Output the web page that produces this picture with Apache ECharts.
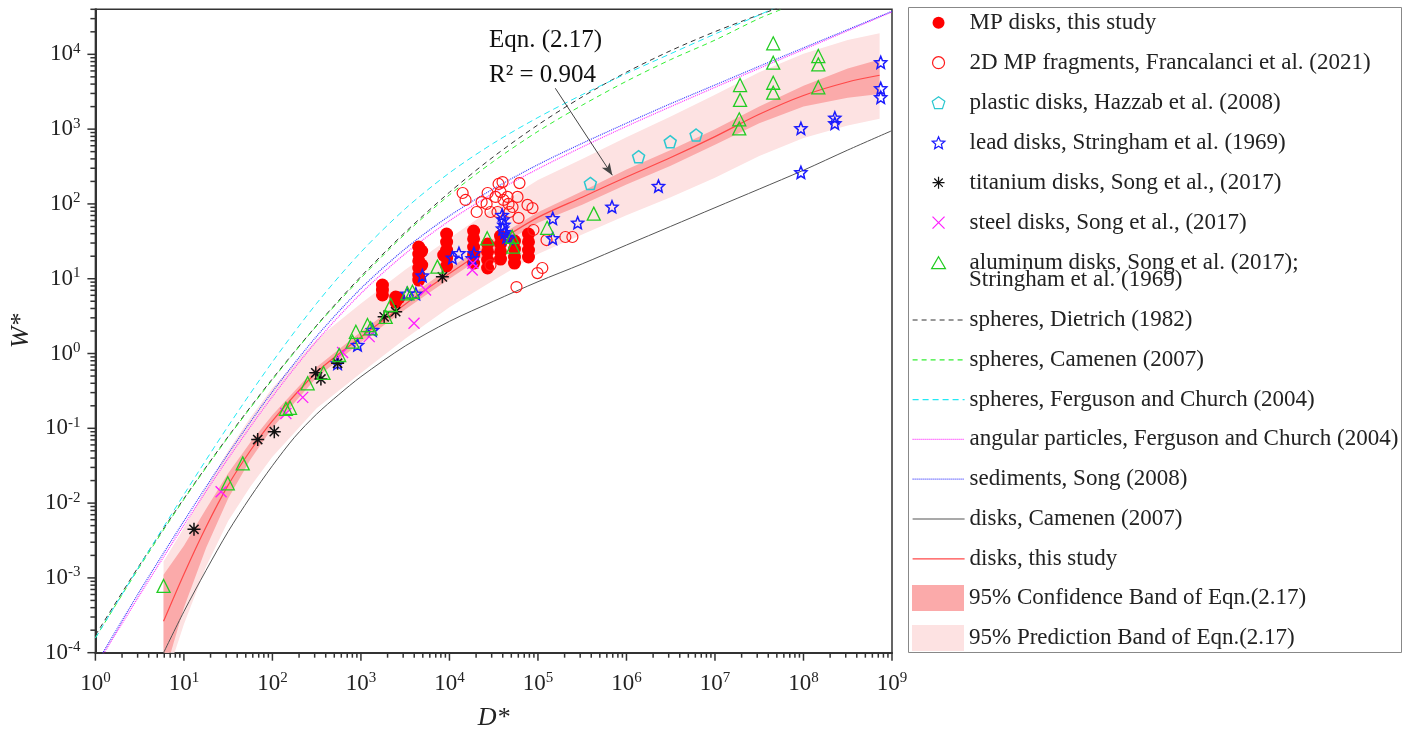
<!DOCTYPE html>
<html lang="en">
<head>
<meta charset="UTF-8">
<title>W* - D*</title>
<script src="https://cdn.jsdelivr.net/npm/echarts@6/dist/echarts.min.js"></script>
<style>
  html, body { margin: 0; padding: 0; background: #fff; }
  #chart { width: 1411px; height: 738px; }
</style>
</head>
<body>
<div id="chart"></div>
<script>
// points, [D*, W*]
var mpDisks = [
  [1750, 8.24], [1750, 7.06], [1750, 6.07], [2470, 5.69], [2470, 4.88], [2680, 5.52],
  [4500, 26.5], [4500, 21.4], [4500, 17.3], [4500, 13.9], [4500, 11.2], [4500, 9.6], [4860, 23.4], [4860, 15.2],
  [9290, 39.6], [9290, 30.9], [9290, 24.2], [9290, 18.9], [9290, 14.8], [8610, 20.7],
  [18750, 43.4], [18750, 34.0], [18750, 26.5], [18750, 20.7], [18750, 16.2],
  [26980, 29.1], [26980, 22.8], [26980, 17.8], [26980, 13.9],
  [37760, 37.2], [37760, 29.1], [37760, 22.8], [37760, 18.3],
  [54330, 31.9], [54330, 24.9], [54330, 19.5], [54330, 16.2],
  [78160, 39.6], [78160, 31.0], [78160, 24.2], [78160, 19.5]
];
var mpFragments = [
  [14100, 140], [15200, 113], [20300, 78], [23100, 106], [27000, 140], [26300, 100], [29100, 78],
  [33200, 124], [35900, 185], [39800, 196], [37800, 144], [40800, 113], [45300, 124], [46500, 100],
  [51600, 91], [58700, 124], [61800, 190], [60300, 65], [76200, 97], [86700, 88], [34900, 78],
  [47700, 78], [88900, 44.8], [125000, 32.9], [204000, 36.1], [245000, 36.1], [29100, 15.2],
  [98700, 11.9], [112000, 13.9], [57200, 7.74]
];
var plasticDisks = [[391000, 188], [1370000, 428], [3120000, 679], [6120000, 834]];
var leadDisks = [
  [545, 0.74], [916, 1.30], [1350, 2.06], [3310, 6.3], [4170, 6.3], [4940, 11.0], [10800, 19.1],
  [12800, 21.9], [18100, 18.7], [18900, 21.9], [39400, 71.1], [40300, 61.7], [41200, 52.5],
  [39800, 46.8], [42200, 41.7], [44200, 36.3], [46900, 34.7], [147000, 34.7], [147000, 64.1],
  [281000, 56.1], [686000, 91.8], [2300000, 173], [93500000, 264], [93500000, 1026],
  [226000000, 1194], [226000000, 1419], [746000000, 2661], [746000000, 3508], [746000000, 7816]
];
var titaniumDisks = [
  [13, 0.00447], [68.2, 0.0708], [105, 0.0902], [309, 0.553], [353, 0.457], [545, 0.741],
  [1830, 3.09], [2470, 3.62], [8320, 10.6]
];
var steelDisks = [
  [26.3, 0.0142], [142, 0.158], [220, 0.259], [621, 1.03], [1240, 1.68], [3980, 2.54],
  [5370, 7.06], [18100, 13.1], [18400, 16.1]
];
var aluminumDisks = [
  [5.89, 0.00078], [31.3, 0.0184], [46.2, 0.034], [142, 0.182], [158, 0.188], [250, 0.40],
  [378, 0.55], [568, 0.955], [804, 1.44], [877, 1.95], [1186, 2.40], [1288, 2.17], [1905, 3.09],
  [2173, 4.45], [3350, 6.38], [3820, 6.70], [7310, 14.5], [26700, 34.7], [51200, 36.4],
  [52500, 26.9], [127000, 47.9], [427000, 74.1],
  [18800000, 1023], [18800000, 1352], [19200000, 2455], [19200000, 3882],
  [45500000, 3069], [45500000, 4169], [45500000, 7727], [45500000, 14030],
  [147000000, 3622], [147000000, 7345], [147000000, 9484]
];

// curves
var dietrichSpheres = [
  [1, 1.71e-4], [3.162, 1.49e-3], [10, 0.0115], [31.62, 0.0776], [100, 0.459], [316.2, 2.38],
  [1000, 10.7], [3162, 41.8], [1e4, 143], [31620, 430], [1e5, 1140], [316200, 2700], [1e6, 5770],
  [3.162e6, 11200], [1e7, 20100], [3.162e7, 33800], [5.012e7, 41100]
];
var camenenSpheres = [
  [1, 1.58e-4], [3.162, 1.41e-3], [10, 0.0112], [31.62, 0.0759], [100, 0.447], [316.2, 2.34],
  [1000, 10.2], [3162, 39.8], [1e4, 132], [31620, 372], [1e5, 933], [316200, 2090], [1e6, 4370],
  [3.162e6, 8510], [1e7, 15500], [3.162e7, 30200], [5.623e7, 39800]
];
var fergusonSpheres = [
  [1, 1.57e-4], [3.162, 1.46e-3], [10, 0.0130], [31.62, 0.107], [100, 0.773], [316.2, 4.69],
  [1000, 22.7], [3162, 86.0], [1e4, 260], [31620, 651], [1e5, 1430], [316200, 2890], [1e6, 5530],
  [3.162e6, 10200], [1e7, 18700], [3.162e7, 33600], [5.012e7, 43300]
];
var fergusonAngular = [
  [1, 6.44e-5], [3.162, 5.90e-4], [10, 5.08e-3], [31.62, 0.0396], [100, 0.266], [316.2, 1.47],
  [1000, 6.35], [3162, 21.6], [1e4, 59.5], [31620, 140], [1e5, 294], [316200, 577], [1e6, 1090],
  [3.162e6, 2000], [1e7, 3620], [3.162e7, 6500], [1e8, 11600], [3.162e8, 20700], [1e9, 37000]
];
var songSediments = [
  [1, 6.76e-5], [3.162, 6.61e-4], [10, 5.75e-3], [31.62, 0.0457], [100, 0.309], [316.2, 1.70],
  [1000, 7.41], [3162, 25.1], [1e4, 69.2], [31620, 160], [1e5, 335], [316200, 646], [1e6, 1200],
  [3.162e6, 2190], [1e7, 3890], [3.162e7, 6920], [1e8, 12200], [3.162e8, 21400], [1e9, 37600]
];
var camenenDisks = [
  [5.623, 8.91e-5], [10, 3.55e-4], [17.78, 1.26e-3], [31.62, 4.17e-3], [56.23, 0.0120], [100, 0.0316],
  [177.8, 0.0759], [316.2, 0.155], [562.3, 0.282], [1000, 0.490], [3162, 1.26], [1e4, 2.69],
  [31620, 5.01], [1e5, 9.12], [316200, 15.8], [1e6, 28.2], [3.162e6, 50.1], [1e7, 89.1],
  [3.162e7, 158], [1e8, 282], [3.162e8, 525], [1e9, 955]
];
var fitDisks = [
  [5.888, 2.63e-4], [10, 1.12e-3], [17.78, 4.79e-3], [31.62, 0.0174], [56.23, 0.0501], [100, 0.126],
  [316.2, 0.562], [1000, 1.66], [3162, 4.57], [1e4, 11.7], [31620, 28.8], [1e5, 66.1], [316200, 123],
  [1e6, 229], [3.162e6, 417], [1e7, 794], [3.162e7, 1580], [1e8, 2820], [3.162e8, 4270], [7.244e8, 5250]
];
var confUpper = [
  [5.888, 1.10e-3], [10, 2.69e-3], [17.78, 8.32e-3], [31.62, 0.0251], [56.23, 0.0646], [100, 0.151],
  [316.2, 0.661], [1000, 1.95], [3162, 5.37], [1e4, 13.8], [31620, 33.9], [1e5, 77.6], [316200, 148],
  [1e6, 288], [3.162e6, 525], [1e7, 1000], [3.162e7, 2000], [1e8, 3800], [3.162e8, 6460], [7.244e8, 8510]
];
var confLower = [
  [5.888, 4.68e-5], [10, 3.98e-4], [17.78, 2.51e-3], [31.62, 0.0115], [56.23, 0.0380], [100, 0.102],
  [316.2, 0.479], [1000, 1.41], [3162, 3.89], [1e4, 10.0], [31620, 24.5], [1e5, 56.2], [316200, 97.7],
  [1e6, 182], [3.162e6, 324], [1e7, 617], [3.162e7, 1200], [1e8, 2000], [3.162e8, 2630], [7.244e8, 2950]
];
var predUpper = [
  [5.888, 1.66e-3], [10, 4.68e-3], [17.78, 0.0158], [31.62, 0.0501], [56.23, 0.138], [100, 0.347],
  [316.2, 1.55], [1000, 4.68], [3162, 13.2], [1e4, 34.7], [31620, 89.1], [1e5, 209], [316200, 398],
  [1e6, 776], [3.162e6, 1480], [1e7, 2880], [3.162e7, 5750], [1e8, 10200], [3.162e8, 15500], [7.244e8, 19100]
];
var predLower = [
  [5.888, 3.55e-5], [10, 2.40e-4], [17.78, 1.41e-3], [31.62, 5.75e-3], [56.23, 0.0166], [100, 0.0417],
  [316.2, 0.186], [1000, 0.550], [3162, 1.58], [1e4, 4.17], [31620, 9.55], [1e5, 21.4], [316200, 38.9],
  [1e6, 70.8], [3.162e6, 123], [1e7, 224], [3.162e7, 437], [1e8, 759], [3.162e8, 1120], [7.244e8, 1380]
];
// arrow of the Eqn. (2.17) note, from / to
var noteArrow = [[157000, 3520], [692000, 242]];

var xMajor = [1, 10, 100, 1e3, 1e4, 1e5, 1e6, 1e7, 1e8, 1e9];
var yMajor = [1e-4, 1e-3, 1e-2, 1e-1, 1, 10, 100, 1e3, 1e4];
var xMin = 1, xMax = 1e9, yMin = 1e-4, yMax = 4e4;

var FONT = 'Liberation Serif';
var INK = '#222';

var STAR = 'path://M0,-10L2.65,-3.64L9.51,-3.09L4.28,1.39L5.88,8.09L0,4.5L-5.88,8.09L-4.28,1.39L-9.51,-3.09L-2.65,-3.64Z';
var PENTAGON = 'path://M0,-10L9.51,-3.09L5.88,8.09L-5.88,8.09L-9.51,-3.09Z';
var TRIANGLE = 'path://M0,-10L10,7.3L-10,7.3Z';
var CROSS = 'path://M0,0L10,10M10,0L0,10';
var ASTERISK = 'path://M5,0L5,10M0,5L10,5M1.46,1.46L8.54,8.54M1.46,8.54L8.54,1.46';

var ALU = 'aluminum disks, Song et al. (2017); Stringham et al. (1969)';
var CONF = '95% Confidence Band of Eqn.(2.17)';
var PRED = '95% Prediction Band of Eqn.(2.17)';

function minorTicks(lo, hi) {
  var out = [];
  for (var d = lo; d < hi; d *= 10) {
    for (var k = 2; k <= 9; k++) {
      if (d * k <= hi) out.push(d * k);
    }
  }
  return out;
}

function band(name, upper, lower, color) {
  return {
    name: name, type: 'custom', z: 1, clip: true, silent: true,
    itemStyle: { color: color },
    data: [[1, 1]],
    renderItem: function (params, api) {
      var pts = upper.map(function (p) { return api.coord(p); });
      lower.slice().reverse().forEach(function (p) { pts.push(api.coord(p)); });
      return { type: 'polygon', shape: { points: pts }, style: { fill: color } };
    }
  };
}

function curve(name, data, color, dash, width) {
  return {
    name: name, type: 'line', data: data, z: 2, silent: true,
    symbol: 'none', showSymbol: false, smooth: 0.3,
    lineStyle: { color: color, type: dash, width: width },
    itemStyle: { color: color }
  };
}

function points(name, data, symbol, size, fill, stroke, bw) {
  return {
    name: name, type: 'scatter', data: data, z: 4, silent: true,
    symbol: symbol, symbolSize: size,
    itemStyle: { color: fill, borderColor: stroke, borderWidth: bw, opacity: 1 }
  };
}

function ticks(values, isX, len) {
  return {
    type: 'custom', z: 5, silent: true,
    data: values.map(function (v) { return isX ? [v, yMin] : [xMin, v]; }),
    renderItem: function (params, api) {
      var p = api.coord([api.value(0), api.value(1)]);
      var shape = isX ? { x1: p[0], y1: p[1], x2: p[0], y2: p[1] + len }
                      : { x1: p[0] - len, y1: p[1], x2: p[0], y2: p[1] };
      return { type: 'line', shape: shape, style: { stroke: '#333', lineWidth: 1.5 } };
    }
  };
}

function powLabel(v) {
  var l = Math.log(v) / Math.LN10;
  var e = Math.round(l);
  if (Math.abs(l - e) > 1e-6) return '';
  return '{b|10}{e|' + e + '}';
}

var labelRich = {
  b: { fontFamily: FONT, fontSize: 23, color: INK, lineHeight: 26 },
  e: { fontFamily: FONT, fontSize: 15, color: INK, lineHeight: 16, verticalAlign: 'top' }
};

var chart = echarts.init(document.getElementById('chart'));

var legendText = { fontFamily: FONT, fontSize: 23, color: INK };

var option = {
  animation: false,
  grid: {
    left: 94, right: 519, top: 9.3, bottom: 85.3,
    show: true, borderColor: '#333', borderWidth: 1.5, backgroundColor: 'transparent'
  },
  xAxis: {
    type: 'log', logBase: 10, min: xMin, max: xMax, splitNumber: 9,
    name: 'D*', nameLocation: 'middle', nameGap: 52,
    nameTextStyle: { fontFamily: FONT, fontStyle: 'italic', fontSize: 26, color: INK },
    axisLine: { lineStyle: { color: '#333', width: 2 } },
    axisTick: { show: false },
    splitLine: { show: false },
    axisLabel: { margin: 18, formatter: powLabel, rich: labelRich, showMaxLabel: true, showMinLabel: true }
  },
  yAxis: {
    type: 'log', logBase: 10, min: yMin, max: yMax, splitNumber: 9,
    name: 'W*', nameLocation: 'middle', nameGap: 58, nameRotate: 90,
    nameTextStyle: { fontFamily: FONT, fontStyle: 'italic', fontSize: 26, color: INK },
    axisLine: { lineStyle: { color: '#333', width: 2 } },
    axisTick: { show: false },
    splitLine: { show: false },
    axisLabel: { margin: 15, formatter: powLabel, rich: labelRich }
  },
  legend: [
    {
      orient: 'vertical', left: 931, top: 11.2, padding: 0, itemWidth: 52, itemHeight: 12, itemGap: 17,
      selectedMode: false, textStyle: legendText, itemStyle: { borderWidth: 1.2 },
      formatter: function (n) { return n === ALU ? 'aluminum disks, Song et al. (2017);' : n; },
      data: ['MP disks, this study', '2D MP fragments, Francalanci et al. (2021)',
        'plastic disks, Hazzab et al. (2008)', 'lead disks, Stringham et al. (1969)',
        'titanium disks, Song et al., (2017)', 'steel disks, Song et al., (2017)', ALU]
    },
    {
      orient: 'vertical', left: 912, top: 308.5, padding: 0, itemWidth: 52, itemHeight: 12, itemGap: 16.8,
      selectedMode: false, textStyle: legendText, lineStyle: { width: 1.2 },
      data: ['spheres, Dietrich (1982)', 'spheres, Camenen (2007)', 'spheres, Ferguson and Church (2004)',
        'angular particles, Ferguson and Church (2004)', 'sediments, Song (2008)',
        'disks, Camenen (2007)', 'disks, this study'].map(function (n) {
        return { name: n, itemStyle: { opacity: 0 } };
      })
    },
    {
      orient: 'vertical', left: 912, top: 585, padding: 0, itemWidth: 52, itemHeight: 26, itemGap: 14,
      selectedMode: false, textStyle: legendText,
      data: [{ name: CONF, icon: 'rect' }, { name: PRED, icon: 'rect' }]
    }
  ],
  graphic: [
    { type: 'rect', shape: { x: 908.5, y: 7.5, width: 493, height: 645 },
      style: { fill: 'none', stroke: '#888', lineWidth: 1 } },
    { type: 'text', x: 969, y: 280, style: { text: 'Stringham et al. (1969)', fontFamily: FONT, fontSize: 23, fill: INK, verticalAlign: 'middle' } },
    { type: 'text', x: 489, y: 40, z: 10, style: { text: 'Eqn. (2.17)', fontFamily: FONT, fontSize: 25, fill: '#111', verticalAlign: 'middle' } },
    { type: 'text', x: 489, y: 75, z: 10, style: { text: 'R\u00b2 = 0.904', fontFamily: FONT, fontSize: 25, fill: '#111', verticalAlign: 'middle' } }
  ],
  series: [
    band(PRED, predUpper, predLower, '#fde2e2'),
    band(CONF, confUpper, confLower, '#fbaaaa'),
    curve('spheres, Dietrich (1982)', dietrichSpheres, '#333333', [5, 4], 1),
    curve('spheres, Camenen (2007)', camenenSpheres, '#33ee33', [5, 4], 1),
    curve('spheres, Ferguson and Church (2004)', fergusonSpheres, '#22e8f4', [6, 4], 1),
    curve('angular particles, Ferguson and Church (2004)', fergusonAngular, '#ff33ff', [1, 1], 1.2),
    curve('sediments, Song (2008)', songSediments, '#3a3aff', [1, 1], 1.2),
    curve('disks, Camenen (2007)', camenenDisks, '#555555', 'solid', 1),
    (function () {
      var s = curve('disks, this study', fitDisks, '#ff4848', 'solid', 1.2);
      s.markLine = {
        silent: true, symbol: ['none', 'arrow'], symbolSize: [7, 12],
        label: { show: false }, lineStyle: { color: '#444', width: 1, type: 'solid' },
        data: [[{ coord: noteArrow[0] }, { coord: noteArrow[1] }]]
      };
      return s;
    })(),
    points('MP disks, this study', mpDisks, 'circle', 13, '#ff0000', 'transparent', 0),
    points('2D MP fragments, Francalanci et al. (2021)', mpFragments, 'circle', 11, 'transparent', '#ff1a1a', 1.2),
    points('plastic disks, Hazzab et al. (2008)', plasticDisks, PENTAGON, 12, 'transparent', '#2cc8d0', 1.5),
    points('lead disks, Stringham et al. (1969)', leadDisks, STAR, 12, 'transparent', '#1a1aff', 1.5),
    points('titanium disks, Song et al., (2017)', titaniumDisks, ASTERISK, 13, 'transparent', '#111111', 1.5),
    points('steel disks, Song et al., (2017)', steelDisks, CROSS, 11, 'transparent', '#ff1aff', 1.3),
    points(ALU, aluminumDisks, TRIANGLE, 13, 'transparent', '#22cc22', 1.3),
    ticks(xMajor, true, 8),
    ticks(minorTicks(xMin, xMax), true, 5),
    ticks(yMajor, false, 8),
    ticks(minorTicks(yMin, yMax), false, 5)
  ]
};

chart.setOption(option);
</script>
</body>
</html>
